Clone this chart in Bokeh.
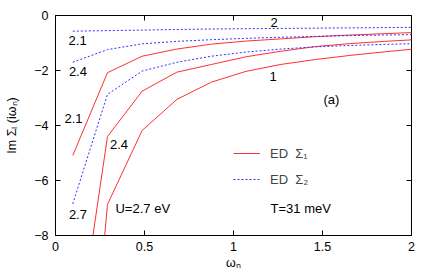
import math
from bokeh.plotting import figure
from bokeh.models import Range1d, Label, Legend, LegendItem
from bokeh.embed import file_html
from bokeh.resources import INLINE

# Matsubara frequencies (T = 31 meV)
wn = [0.097, 0.292, 0.487, 0.682, 0.877, 1.071, 1.266, 1.461, 1.656, 1.850, 2.045]

# ED Sigma_1 (red solid), U = 2.1, 2.4, 2.7 eV
s1_u21 = [-5.09, -2.08, -1.48, -1.22, -1.04, -0.93, -0.85, -0.77, -0.71, -0.66, -0.61]
s1_u24 = [-13.0, -4.40, -2.75, -2.06, -1.78, -1.50, -1.30, -1.13, -1.02, -0.94, -0.87]
s1_u27 = [-21.0, -6.87, -4.18, -3.05, -2.42, -2.03, -1.78, -1.60, -1.45, -1.32, -1.20]

# ED Sigma_2 (blue dotted), U = 2.1, 2.4, 2.7 eV
s2_u21 = [-0.57, -0.55, -0.53, -0.51, -0.49, -0.48, -0.47, -0.46, -0.45, -0.44, -0.43]
s2_u24 = [-1.70, -1.24, -1.03, -0.94, -0.88, -0.83, -0.79, -0.76, -0.73, -0.71, -0.69]
s2_u27 = [-6.85, -2.87, -2.02, -1.70, -1.48, -1.33, -1.22, -1.14, -1.09, -1.05, -1.02]

x_ticks = [0, 0.5, 1, 1.5, 2]
y_ticks = [0, -2, -4, -6, -8]
X_MIN, X_MAX = 0, 2
Y_MIN, Y_MAX = -8, 0

FONT = "Liberation Sans"
RED = "#ff3030"
BLUE = "#3030ff"

p = figure(width=436, height=273,
           output_backend="svg", toolbar_location=None,
           x_range=Range1d(X_MIN, X_MAX), y_range=Range1d(Y_MIN, Y_MAX),
           min_border_left=55, min_border_top=15, min_border_right=25, min_border_bottom=38)
p.grid.visible = False
p.outline_line_color = "black"
p.background_fill_color = "white"
p.border_fill_color = "white"

r1 = p.line(wn, s1_u21, line_color=RED, line_width=1)
p.line(wn, s1_u24, line_color=RED, line_width=1)
p.line(wn, s1_u27, line_color=RED, line_width=1)
r2 = p.line(wn, s2_u21, line_color=BLUE, line_width=1, line_dash="2 2")
p.line(wn, s2_u24, line_color=BLUE, line_width=1, line_dash="2 2")
p.line(wn, s2_u27, line_color=BLUE, line_width=1, line_dash="2 2")

# mirrored inward ticks on top and right (half of each dash is clipped by the frame)
p.scatter(x_ticks, [Y_MAX] * len(x_ticks), marker="dash", angle=math.pi / 2,
          size=10, line_color="black", line_width=1)
p.scatter([X_MAX] * len(y_ticks), y_ticks, marker="dash",
          size=10, line_color="black", line_width=1)

xb = p.xaxis[0]
yl = p.yaxis[0]
xb.ticker = x_ticks
yl.ticker = y_ticks
for ax in (xb, yl):
    ax.major_tick_in = 5
    ax.major_tick_out = 0
    ax.minor_tick_in = 0
    ax.minor_tick_out = 0
    ax.axis_line_color = "black"
    ax.major_tick_line_color = "black"
    ax.major_label_text_font = FONT
    ax.major_label_text_font_size = "12.5px"
    ax.major_label_text_color = "black"
    ax.axis_label_text_font = FONT
    ax.axis_label_text_font_size = "12.5px"
    ax.axis_label_text_font_style = "normal"
    ax.axis_label_text_color = "black"
xb.major_label_standoff = 6
yl.major_label_standoff = 7
xb.major_label_overrides = {0: "0", 0.5: "0.5", 1: "1", 1.5: "1.5", 2: "2"}
xb.axis_label = "ωₙ"
xb.axis_label_standoff = 2
yl.axis_label = "Im Σₗ (iωₙ)"
yl.axis_label_standoff = 12

def lab(x, y, t, align="center"):
    p.add_layout(Label(x=x, y=y, text=t, text_font=FONT, text_font_size="13px",
                       text_align=align, text_baseline="middle", text_color="black"))

lab(0.124, -0.91, "2.1")
lab(0.126, -2.02, "2.4")
lab(0.101, -3.73, "2.1")
lab(0.357, -4.69, "2.4")
lab(0.126, -7.22, "2.7")
lab(0.337, -7.0, "U=2.7 eV", "left")
lab(1.228, -0.27, "2")
lab(1.222, -2.22, "1")
lab(1.55, -3.05, "(a)")
lab(1.208, -7.02, "T=31 meV", "left")

legend = Legend(items=[LegendItem(label="ED  Σ₁", renderers=[r1]),
                       LegendItem(label="ED  Σ₂", renderers=[r2])],
                location=(178, 46), padding=0, margin=0, spacing=6,
                glyph_width=27, glyph_height=20, label_height=20, label_standoff=10,
                label_text_font=FONT, label_text_font_size="13px",
                border_line_color=None, background_fill_alpha=0)
p.add_layout(legend, "center")

open("out.html", "w").write(file_html(p, INLINE))
